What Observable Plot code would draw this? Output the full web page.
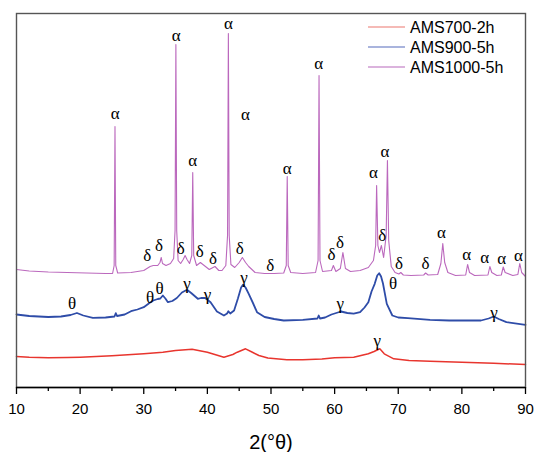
<!DOCTYPE html>
<html><head><meta charset="utf-8">
<script src="https://cdn.jsdelivr.net/npm/d3@7"></script>
<script src="https://cdn.jsdelivr.net/npm/@observablehq/plot@0.6"></script>
<style>
body{margin:0;background:#fff;}
#wrap{position:relative;width:537px;height:452px;}
#leg{position:absolute;left:0;top:0;pointer-events:none;}
</style></head><body><div id="wrap"></div>
<script>
// 2θ (deg), intensity (a.u., stacked offsets as in the figure)
const ams700 = [[10,31],[12,30.3],[15,29.7],[18,30],[20,30.3],[25,31.7],[30,33.7],[33,35.3],[35,37],[37.6,38.3],[40,35.3],[42.6,30.3],[44,33],[44.7,35.3],[46,38.7],[47,35.5],[48.1,32],[49.5,29.5],[52.5,27.7],[55,27.7],[58,28.5],[60,29.7],[63,30.3],[65.3,33.7],[66.2,36],[67.1,38.7],[67.8,33.7],[69.3,28.7],[71.7,27],[75,26.2],[80,25.3],[85,24.2],[90,23]];
const ams900 = [[10,73],[12,71.5],[15,70.5],[17,71],[18.5,72.5],[19.5,74.5],[20.5,72],[22,69.7],[24,70],[25.4,71],[25.6,74.3],[25.8,71.5],[27,73],[28,76.3],[29,78],[30,80.3],[31,85],[31.5,87],[32.2,88.5],[32.6,89],[33,92],[33.4,89],[33.8,85.3],[34.5,86.5],[35.2,89.5],[36,95],[36.8,97.7],[37.5,94.3],[38.5,88.7],[39,89.5],[39.6,89.7],[40.5,85.3],[41.5,76],[42.6,72],[43.1,74],[43.3,76.3],[43.6,74],[44.2,77],[44.8,89],[45.3,100],[45.6,102.7],[46,100],[46.5,93.7],[47.2,84],[47.8,75.3],[49,70.5],[50.5,68.5],[52,67],[55,67.7],[57.3,69],[57.5,72],[57.7,69],[58.5,70],[59.5,73],[60.5,75],[61,76],[62,74.5],[63,73.8],[64,75.3],[64.7,80],[65.3,85.3],[65.8,96],[66.3,103.7],[66.7,112],[67,114.3],[67.3,111],[67.6,104],[68.2,83.7],[69.07,72],[70,70],[71.5,69.3],[75,67.7],[78,67],[80,67],[83,67],[84.2,69],[85,71],[85.8,68.5],[87,65.3],[90,62.7]];
const ams1000 = [[10,118],[12,116.5],[15,115.5],[18,115],[21,114.5],[24,114],[25.1,114],[25.35,122],[25.48,261],[25.6,122],[25.9,114.5],[28,115],[30,117],[31,121],[31.5,122],[32.2,122],[32.55,125],[32.75,130],[32.95,124],[33.5,122],[34.2,124],[34.7,129],[34.92,157],[35.05,343],[35.18,157],[35.4,127],[35.8,124],[36.2,128],[36.5,132],[36.8,128],[37.2,124],[37.55,132],[37.7,215],[37.85,132],[38.3,122],[38.9,125],[39.5,122],[40.3,118],[41.2,121],[41.8,117],[42.3,117],[42.9,122],[43.17,152],[43.3,354],[43.43,152],[43.7,123],[44.3,120],[45,125],[45.5,130],[46,125],[46.5,121],[47.5,115],[49,114],[50.5,114],[52,114.5],[52.4,122],[52.55,211],[52.7,122],[53.1,115],[55,114],[57,115],[57.4,127],[57.55,312],[57.7,127],[58.1,116],[59.5,117],[59.8,122],[60.2,116],[60.9,119],[61.3,135],[61.7,119],[62.5,116],[64,117],[65.3,120],[66.1,127],[66.45,142],[66.6,202],[66.8,142],[67.05,135],[67.35,142],[67.7,130],[68.1,152],[68.3,227],[68.5,147],[68.9,121],[69.5,115],[70.1,113.5],[70.4,115],[70.8,112.5],[72,112],[74,112.5],[74.3,114.5],[74.7,112.5],[76.2,113],[76.7,124],[77,144],[77.3,125],[77.8,115],[79,112],[80.6,112.5],[80.9,123],[81.2,115],[82,112],[84.1,112.5],[84.4,121],[84.7,115],[85.5,112],[86.2,112.5],[86.5,120.5],[86.8,115],[88,112],[88.8,113],[89.1,124],[89.4,115],[90,111]];

// phase labels: [symbol, 2θ, intensity]
const labels1000 = [["α",25.5,274],["δ",30.55,132],["δ",32.4,142],["α",35.1,352],["δ",35.8,139],["α",37.7,227],["δ",38.8,136],["δ",40.9,129],["α",43.3,364],["α",46.0,273],["δ",45.1,139],["δ",49.9,122],["α",52.55,219],["α",57.5,324],["δ",59.5,133],["δ",60.85,145],["α",66.1,215],["δ",67.5,152],["α",67.9,236],["δ",70.1,124],["δ",74.3,124],["α",76.8,155],["α",80.75,133],["α",83.6,130],["α",86.25,129],["α",88.9,132]];
const labels900 = [["θ",18.75,84],["θ",31.0,90],["θ",32.5,99],["γ",36.8,104],["γ",40.0,93],["γ",45.75,110],["γ",60.9,84],["θ",69.2,104],["γ",85.05,75]];
const labels700 = [["γ",66.7,47]];

const seriesNames = ["AMS700-2h","AMS900-5h","AMS1000-5h"];
const seriesColors = ["#e8352e","#2e4ca8","#bb68bd"];
const legendColors = ["#f2a39e","#8d9bd2","#cf9ad2"];
const majorTicks = [10,20,30,40,50,60,70,80,90];
const minorTicks = [15,25,35,45,55,65,75,85];
const xTitle = "2(°θ)";

const toObj = a => a.map(([t,i]) => ({t,i}));
const toLab = a => a.map(([s,t,i]) => ({s,t,i}));

const chart = Plot.plot({
  width:537, height:452, marginTop:13, marginBottom:65, marginLeft:16, marginRight:12,
  style:{fontFamily:"'Liberation Sans', Arial, sans-serif", fontSize:"15px", background:"#fff", color:"#000", overflow:"visible"},
  x:{domain:[10,90], label:null},
  y:{domain:[0,374], axis:null},
  marks:[
    Plot.line(toObj(ams700), {x:"t", y:"i", stroke:seriesColors[0], strokeWidth:1.5}),
    Plot.line(toObj(ams900), {x:"t", y:"i", stroke:seriesColors[1], strokeWidth:1.8}),
    Plot.line(toObj(ams1000), {x:"t", y:"i", stroke:seriesColors[2], strokeWidth:1.1}),
    Plot.text(toLab(labels1000), {x:"t", y:"i", text:"s", fontFamily:"'Liberation Serif', serif", fontSize:17, fill:"#000"}),
    Plot.text(toLab(labels900), {x:"t", y:"i", text:"s", fontFamily:"'Liberation Serif', serif", fontSize:17, fill:"#000"}),
    Plot.text(toLab(labels700), {x:"t", y:"i", text:"s", fontFamily:"'Liberation Serif', serif", fontSize:17, fill:"#000"}),
    Plot.frame({stroke:"#555", strokeWidth:1.4}),
    Plot.axisX({ticks:majorTicks, tickSize:7, tickPadding:9, fontSize:15, label:null, strokeWidth:1.3}),
    Plot.axisX({ticks:minorTicks, tickSize:4, tickFormat:() => "", label:null, strokeWidth:1.3}),
    Plot.ruleY([0], {stroke:"#000", strokeWidth:1.3}),
    Plot.text([xTitle], {frameAnchor:"bottom", dy:61, text:d=>d, fontSize:20, fill:"#000"})
  ]
});
const wrap = document.getElementById("wrap");
wrap.appendChild(chart);

// legend inside the frame, top-right
const leg = d3.select(wrap).append("svg").attr("id","leg").attr("width",537).attr("height",452);
seriesNames.forEach((n,k) => {
  const y = 27 + k*20;
  leg.append("line").attr("x1",368).attr("x2",405).attr("y1",y).attr("y2",y)
     .attr("stroke",legendColors[k]).attr("stroke-width",1.5);
  leg.append("text").attr("x",410).attr("y",y).attr("dy","0.35em")
     .attr("font-family","'Liberation Sans', Arial, sans-serif").attr("font-size",16).attr("fill","#000").text(n);
});
</script></body></html>
